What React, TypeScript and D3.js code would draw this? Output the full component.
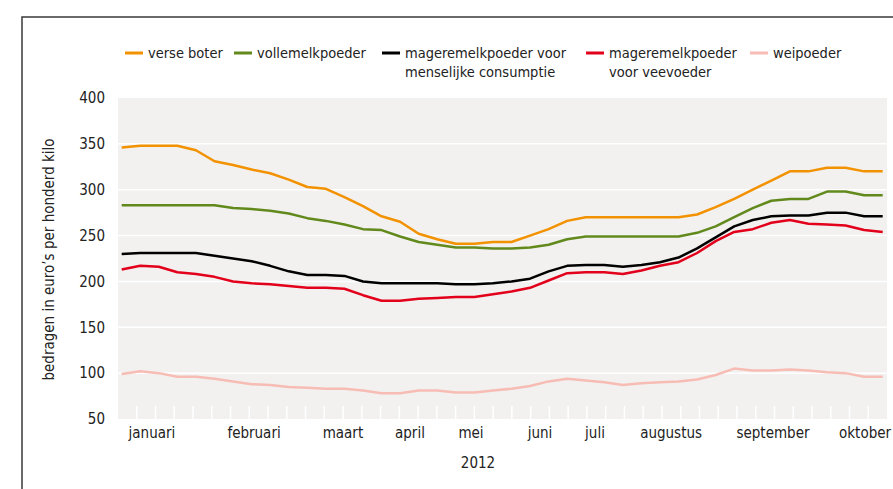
import React from "react";
import * as d3 from "d3";

// weekly prices 2012, euro per 100 kg (week 1 .. week 42)
const weeks = d3.range(42);

const verseBoter = [346, 348, 348, 348, 343, 331, 327, 322, 318, 311, 303, 301, 292, 282, 271, 265, 252, 246, 241, 241, 243, 243, 250, 257, 266, 270, 270, 270, 270, 270, 270, 273, 281, 290, 300, 310, 320, 320, 324, 324, 320, 320];
const vollemelkpoeder = [283, 283, 283, 283, 283, 283, 280, 279, 277, 274, 269, 266, 262, 257, 256, 249, 243, 240, 237, 237, 236, 236, 237, 240, 246, 249, 249, 249, 249, 249, 249, 253, 260, 270, 280, 288, 290, 290, 298, 298, 294, 294];
const magerMens = [230, 231, 231, 231, 231, 228, 225, 222, 217, 211, 207, 207, 206, 200, 198, 198, 198, 198, 197, 197, 198, 200, 203, 211, 217, 218, 218, 216, 218, 221, 226, 236, 248, 260, 267, 271, 272, 272, 275, 275, 271, 271];
const magerVee = [213, 217, 216, 210, 208, 205, 200, 198, 197, 195, 193, 193, 192, 185, 179, 179, 181, 182, 183, 183, 186, 189, 193, 201, 209, 210, 210, 208, 212, 217, 221, 231, 244, 254, 257, 264, 267, 263, 262, 261, 256, 254];
const weipoeder = [99, 102, 100, 96, 96, 94, 91, 88, 87, 85, 84, 83, 83, 81, 78, 78, 81, 81, 79, 79, 81, 83, 86, 91, 94, 92, 90, 87, 89, 90, 91, 93, 98, 105, 103, 103, 104, 103, 101, 100, 96, 96];

const series = [
  { name: ["verse boter"], values: verseBoter, color: "#f39200" },
  { name: ["vollemelkpoeder"], values: vollemelkpoeder, color: "#62891c" },
  { name: ["mageremelkpoeder voor", "menselijke consumptie"], values: magerMens, color: "#000000" },
  { name: ["mageremelkpoeder", "voor veevoeder"], values: magerVee, color: "#e2001a" },
  { name: ["weipoeder"], values: weipoeder, color: "#f7bcb3" },
];

const yTicks = [50, 100, 150, 200, 250, 300, 350, 400];

// month label centred at a (fractional) week index
const monthLabels = [
  { label: "januari", week: 1.63 },
  { label: "februari", week: 7.13 },
  { label: "maart", week: 11.92 },
  { label: "april", week: 15.53 },
  { label: "mei", week: 18.82 },
  { label: "juni", week: 22.54 },
  { label: "juli", week: 25.5 },
  { label: "augustus", week: 29.6 },
  { label: "september", week: 35.09 },
  { label: "oktober", week: 40.05 },
];

const legendX = [125, 234, 382, 586, 750];

const font = "'Liberation Sans Narrow', 'DejaVu Sans Condensed', 'Arial Narrow', sans-serif";

export default function App() {
  const width = 893;
  const height = 489;
  const plot = { left: 118, right: 887, top: 98, bottom: 419 };

  const x = d3.scaleLinear().domain([0, weeks.length - 1]).range([121.7, 882.7]);
  const y = d3.scaleLinear().domain([50, 400]).range([plot.bottom, plot.top]);
  // weekly tick marks along the bottom
  const band = d3.scaleBand<number>().domain(d3.range(41)).range([plot.left, plot.right]);

  const line = d3
    .line<number>()
    .x((d, i) => x(weeks[i]))
    .y((d) => y(d));

  return (
    <svg
      width={width}
      height={height}
      style={{ position: "absolute", left: 0, top: 0, background: "#fff" }}
      fontFamily={font}
    >
      {/* frame */}
      <path d={`M22,${height} V17 H${width}`} fill="none" stroke="#3a3a3a" strokeWidth={1.5} />

      {/* plot background */}
      <rect
        x={plot.left}
        y={plot.top}
        width={plot.right - plot.left}
        height={plot.bottom - plot.top}
        fill="#f2f1f0"
      />
      {yTicks.slice(1, -1).map((t) => (
        <line key={t} x1={plot.left} x2={plot.right} y1={y(t)} y2={y(t)} stroke="#fff" strokeWidth={1.5} />
      ))}
      {band.domain().slice(1).map((i) => (
        <line
          key={i}
          x1={band(i)}
          x2={band(i)}
          y1={plot.bottom - 13}
          y2={plot.bottom}
          stroke="#fff"
          strokeWidth={1.5}
        />
      ))}

      {/* y axis */}
      {yTicks.map((t) => (
        <text key={t} x={105} y={y(t)} dy="0.35em" textAnchor="end" fontSize={15} fill="#222">
          {t}
        </text>
      ))}
      <text
        transform={`translate(54,${(plot.top + plot.bottom) / 2 + 1}) rotate(-90)`}
        textAnchor="middle"
        fontSize={15}
        fill="#222"
      >
        bedragen in euro’s per honderd kilo
      </text>

      {/* x axis */}
      {monthLabels.map((m) => (
        <text key={m.label} x={x(m.week)} y={438} textAnchor="middle" fontSize={15} fill="#222">
          {m.label}
        </text>
      ))}
      <text x={478} y={468} textAnchor="middle" fontSize={15} fill="#222">
        2012
      </text>

      {/* lines */}
      {series.map((s) => (
        <path key={s.name[0]} d={line(s.values) ?? ""} fill="none" stroke={s.color} strokeWidth={2.5} strokeLinejoin="round" />
      ))}

      {/* legend */}
      {series.map((s, i) => (
        <g key={s.name[0]} transform={`translate(${legendX[i]},53)`}>
          <line x1={0} x2={18} y1={0} y2={0} stroke={s.color} strokeWidth={3} />
          {s.name.map((n, j) => (
            <text key={n} x={23} y={j * 19} dy="0.35em" fontSize={14.5} fill="#222">
              {n}
            </text>
          ))}
        </g>
      ))}
    </svg>
  );
}
